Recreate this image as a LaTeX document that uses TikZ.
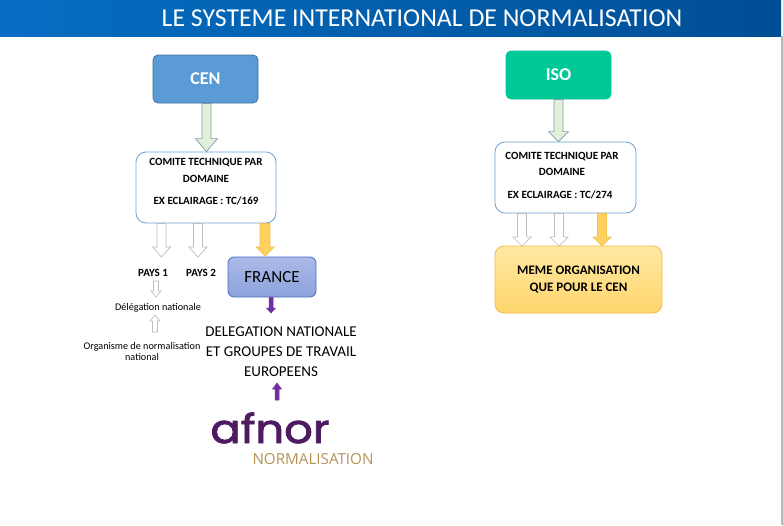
\documentclass[tikz,border=0pt]{standalone}
\usepackage{fontspec}
\setmainfont{Carlito}
\newfontfamily\logofont[FakeBold=2]{Poppins}
\newfontfamily\subfont{Open Sans}
\usetikzlibrary{calc}
\definecolor{hdrL}{RGB}{5,110,195}
\definecolor{hdrR}{RGB}{0,78,148}
\definecolor{cenfill}{RGB}{91,155,213}
\definecolor{cenline}{RGB}{65,113,156}
\definecolor{isofill}{RGB}{0,201,151}
\definecolor{comline}{RGB}{110,160,210}
\definecolor{greenfill}{RGB}{226,240,217}
\definecolor{greenline}{RGB}{125,155,175}
\definecolor{hollowline}{RGB}{190,190,190}
\definecolor{yelfill}{RGB}{255,210,95}
\definecolor{yelline}{RGB}{242,190,80}
\definecolor{frtop}{RGB}{172,186,232}
\definecolor{frbot}{RGB}{140,162,220}
\definecolor{frline}{RGB}{70,110,190}
\definecolor{memetop}{RGB}{255,232,160}
\definecolor{memebot}{RGB}{255,214,110}
\definecolor{memeline}{RGB}{245,185,80}
\definecolor{purplearr}{RGB}{112,48,160}
\definecolor{afnorpurple}{RGB}{78,26,96}
\definecolor{afnorgold}{RGB}{182,148,90}
\newcommand\blkarrow[6]{%
  \draw[#1] let \p1=(#2), \p2=(#3) in
    ({\x1-#4},\y1) -- ({\x1+#4},\y1) -- ({\x1+#4},{\y2+(#6)}) --
    ({\x1+#5},{\y2+(#6)}) -- (\x1,\y2) -- ({\x1-#5},{\y2+(#6)}) --
    ({\x1-#4},{\y2+(#6)}) -- cycle;}
\begin{document}
\begin{tikzpicture}[x=1pt,y=-1pt,
  headbox/.style={rounded corners=5pt, line width=0.8pt, text=white,
    font=\bfseries\fontsize{18}{20}\selectfont, inner sep=0pt},
  combox/.style={draw=comline, fill=white, rounded corners=10pt, line width=0.8pt,
    minimum width=140pt, minimum height=71pt, inner sep=0pt},
  smallbold/.style={font=\bfseries\fontsize{11}{12}\selectfont, inner sep=0pt},
  smalltext/.style={font=\fontsize{10.2}{11}\selectfont, inner sep=0pt},
  bigtext/.style={font=\fontsize{15}{18}\selectfont, inner sep=0pt},
  greenarr/.style={fill=greenfill, draw=greenline, line width=0.7pt},
  hollowarr/.style={fill=white, draw=hollowline, line width=0.7pt},
  yelarr/.style={fill=yelfill, draw=yelline, line width=0.7pt},
  purparr/.style={fill=purplearr, draw=purplearr, line width=0.5pt}]
\useasboundingbox (0,0) rectangle (783,525);
\fill[white] (0,0) rectangle (783,525);
% header
\shade[left color=hdrL, right color=hdrR] (0,0) rectangle (781,36);
\fill[gray!55] (780.5,36) rectangle (782.5,525);
\node[text=white, font=\fontsize{25.8}{28}\selectfont, inner sep=0pt] (title) at (422,18)
  {LE SYSTEME INTERNATIONAL DE NORMALISATION};

% left column
\node[headbox, fill=cenfill, draw=cenline, minimum width=105pt, minimum height=48pt]
  (cen) at (205.5,79) {CEN};
\node[combox] (comL) at (206,187.5) {};
\node[smallbold] (comL1) at (206,163) {COMITE TECHNIQUE PAR};
\node[smallbold] (comL2) at (206,179) {DOMAINE};
\node[smallbold] (comL3) at (206,201) {EX ECLAIRAGE : TC/169};

\node[draw=frline, top color=frtop, bottom color=frbot, rounded corners=6pt,
  line width=0.8pt, minimum width=88pt, minimum height=40pt, inner sep=0pt,
  font=\fontsize{17}{19}\selectfont] (france) at (272,277) {FRANCE};

\node[smallbold] (pays1) at (153,273) {PAYS 1};
\node[smallbold] (pays2) at (201,273) {PAYS 2};
\node[smalltext] (deleg) at (158,308) {Délégation nationale};
\node[smalltext, align=center] (org) at (142,351.5) {Organisme de normalisation\\national};

\node[bigtext, align=center] (delnat) at (281,352)
  {DELEGATION NATIONALE\\[2pt]ET GROUPES DE TRAVAIL\\[2pt]EUROPEENS};

\node[inner sep=0pt, text height=28pt, text depth=0pt, text=afnorpurple,
  font=\logofont\fontsize{40}{40}\selectfont, xscale=1.12, anchor=base]
  (afnor) at (270,443) {afnor};
\node[inner sep=0pt, text height=11pt, text depth=0pt, text=afnorgold,
  font=\subfont\fontsize{15.2}{16}\selectfont, anchor=base]
  (afnorsub) at (313,464.5) {NORMALISATION};

% left arrows
\blkarrow{greenarr}{cen.south -| 206.5,0}{comL.north -| 206.5,0}{4.5pt}{11pt}{13pt}
\coordinate (a1) at (161.5,257);
\coordinate (a2) at (198,257);
\coordinate (a3) at (265,256);
\blkarrow{hollowarr}{comL.south -| a1}{a1}{4.5pt}{9pt}{10pt}
\blkarrow{hollowarr}{comL.south -| a2}{a2}{4.5pt}{9pt}{10pt}
\blkarrow{yelarr}{comL.south -| a3}{a3}{5pt}{9pt}{9pt}
\coordinate (p1s) at (156,281);
\coordinate (p1e) at (156,297);
\blkarrow{hollowarr}{p1s}{p1e}{2.5pt}{5pt}{6pt}
\coordinate (ors) at (155,332);
\coordinate (ore) at (155,315);
\blkarrow{hollowarr}{ors}{ore}{2.5pt}{5pt}{-6pt}
\coordinate (fre) at (271,313);
\blkarrow{purparr}{france.south -| fre}{fre}{2pt}{4.5pt}{5pt}
\coordinate (afs) at (277,400);
\coordinate (afe) at (277,383);
\blkarrow{purparr}{afs}{afe}{2pt}{4.5pt}{-6pt}

% right column
\node[headbox, fill=isofill, draw=isofill, minimum width=105pt, minimum height=48pt]
  (iso) at (558.5,75) {ISO};
\node[combox, minimum width=141pt] (comR) at (565.5,177.5) {};
\node[smallbold] (comR1) at (562,157) {COMITE TECHNIQUE PAR};
\node[smallbold] (comR2) at (562,172) {DOMAINE};
\node[smallbold] (comR3) at (560,195) {EX ECLAIRAGE : TC/274};
\node[draw=memeline, top color=memetop, bottom color=memebot, rounded corners=9pt,
  line width=0.8pt, minimum width=167pt, minimum height=67pt, inner sep=0pt,
  font=\bfseries\fontsize{13}{14}\selectfont, align=center] (meme) at (578.5,279.5)
  {MEME ORGANISATION\\[3pt]QUE POUR LE CEN};

\blkarrow{greenarr}{iso.south -| 558.5,0}{comR.north -| 558.5,0}{4.5pt}{10pt}{10pt}
\coordinate (b1) at (522,246);
\coordinate (b2) at (559,246);
\coordinate (b3) at (602,246);
\blkarrow{hollowarr}{comR.south -| b1}{b1}{4.5pt}{9pt}{9pt}
\blkarrow{hollowarr}{comR.south -| b2}{b2}{4.5pt}{9pt}{9pt}
\blkarrow{yelarr}{comR.south -| b3}{b3}{4.5pt}{9pt}{9pt}
\end{tikzpicture}
\end{document}
